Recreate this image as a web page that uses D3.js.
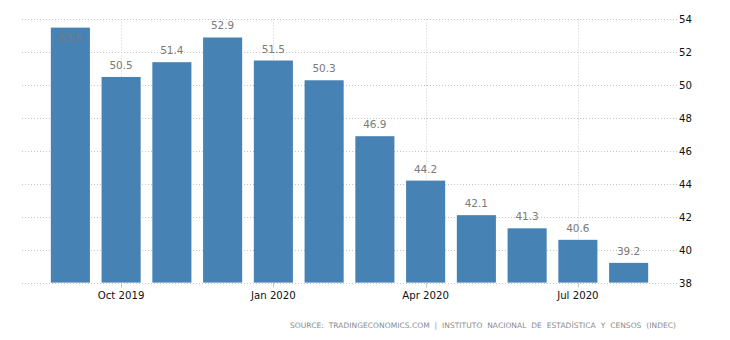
<!DOCTYPE html>
<html>
<head>
<meta charset="utf-8">
<script src="https://cdnjs.cloudflare.com/ajax/libs/d3/7.8.5/d3.min.js"></script>
<style>
  html, body { margin: 0; padding: 0; background: #fff; }
  svg { display: block; }
</style>
</head>
<body>
<script>
const months = ["Sep 2019","Oct 2019","Nov 2019","Dec 2019","Jan 2020","Feb 2020","Mar 2020","Apr 2020","May 2020","Jun 2020","Jul 2020","Aug 2020"];
const values = [53.5, 50.5, 51.4, 52.9, 51.5, 50.3, 46.9, 44.2, 42.1, 41.3, 40.6, 39.2];
const xTickLabels = ["Oct 2019", "Jan 2020", "Apr 2020", "Jul 2020"];
const yTicks = [38, 40, 42, 44, 46, 48, 50, 52, 54];
const sourceText = "SOURCE:  TRADINGECONOMICS.COM  |  INSTITUTO  NACIONAL  DE  ESTADÍSTICA  Y  CENSOS  (INDEC)";

const W = 730, H = 340;
const font = "'DejaVu Sans', Verdana, sans-serif";
const svg = d3.select("body").append("svg").attr("width", W).attr("height", H);

const gridLeft = 22, gridRight = 678;
const y = d3.scaleLinear().domain([38, 54]).range([282.6, 19.4]);
const x = d3.scaleBand().domain(months).range([45, 654]).paddingInner(0.23).paddingOuter(0.115);

// horizontal grid
svg.append("g").selectAll("line").data(yTicks).join("line")
  .attr("x1", gridLeft).attr("x2", gridRight)
  .attr("y1", d => Math.round(y(d)) + 0.5).attr("y2", d => Math.round(y(d)) + 0.5)
  .attr("stroke", "#c4c4c4").attr("stroke-dasharray", "1,2").attr("stroke-width", 1);

// vertical grid at labelled months
const tickMonths = months.filter(m => xTickLabels.includes(m));
svg.append("g").selectAll("line").data(tickMonths).join("line")
  .attr("x1", d => Math.round(x(d) + x.bandwidth() / 2) + 0.5)
  .attr("x2", d => Math.round(x(d) + x.bandwidth() / 2) + 0.5)
  .attr("y1", y(54)).attr("y2", y(38))
  .attr("stroke", "#cfcfcf").attr("stroke-dasharray", "1,2").attr("stroke-width", 1);

// bars
svg.append("g").selectAll("rect").data(values).join("rect")
  .attr("x", (d, i) => x(months[i]))
  .attr("width", x.bandwidth())
  .attr("y", d => y(d))
  .attr("height", d => y(38) - y(d))
  .attr("fill", "#4682b4");

// x tick marks
svg.append("g").selectAll("line").data(tickMonths).join("line")
  .attr("x1", d => Math.round(x(d) + x.bandwidth() / 2) + 0.5)
  .attr("x2", d => Math.round(x(d) + x.bandwidth() / 2) + 0.5)
  .attr("y1", y(38)).attr("y2", y(38) + 5)
  .attr("stroke", "#c4c4c4").attr("stroke-width", 1);

// value labels
svg.append("g").selectAll("text").data(values).join("text")
  .attr("x", (d, i) => x(months[i]) + x.bandwidth() / 2)
  .attr("y", d => (y(d) - 20 < 10) ? y(d) + 14 : y(d) - 8)
  .attr("text-anchor", "middle")
  .attr("font-family", font).attr("font-size", "10.5px")
  .attr("fill", "#7a7a7a")
  .text(d => d.toFixed(1));

// x axis labels
svg.append("g").selectAll("text").data(tickMonths).join("text")
  .attr("x", d => x(d) + x.bandwidth() / 2)
  .attr("y", 299)
  .attr("text-anchor", "middle")
  .attr("font-family", font).attr("font-size", "10.2px")
  .attr("fill", "#111")
  .text(d => d);

// y axis labels (right)
svg.append("g").selectAll("text").data(yTicks).join("text")
  .attr("x", 679)
  .attr("y", d => y(d) + 4)
  .attr("font-family", font).attr("font-size", "10.2px")
  .attr("fill", "#111")
  .text(d => d);

// source
svg.append("text")
  .attr("x", 676).attr("y", 328)
  .attr("text-anchor", "end")
  .attr("font-family", font).attr("font-size", "7.5px")
  .attr("fill", "#8a8a8a")
  .style("white-space", "pre")
  .attr("xml:space", "preserve")
  .attr("textLength", 386).attr("lengthAdjust", "spacing")
  .text(sourceText);
</script>
</body>
</html>
